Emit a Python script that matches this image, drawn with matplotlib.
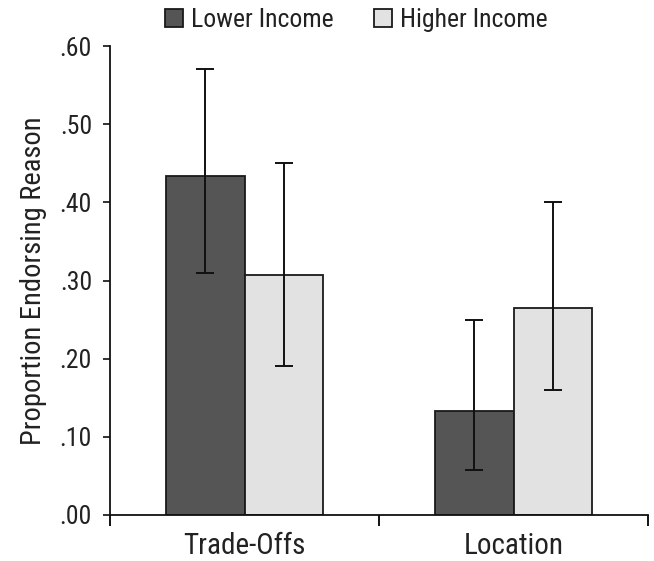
import matplotlib
matplotlib.use("Agg")
import matplotlib.pyplot as plt
import numpy as np

plt.rcParams['font.family'] = ['Roboto Condensed', 'Liberation Sans', 'DejaVu Sans']

categories = ["Trade-Offs", "Location"]
series = ["Lower Income", "Higher Income"]
lower_vals = [0.434, 0.133]
lower_lo = [0.310, 0.058]
lower_hi = [0.570, 0.250]
higher_vals = [0.307, 0.265]
higher_lo = [0.190, 0.160]
higher_hi = [0.450, 0.400]
yticks = [0.0, 0.1, 0.2, 0.3, 0.4, 0.5, 0.6]
ytick_labels = [".00", ".10", ".20", ".30", ".40", ".50", ".60"]

fig = plt.figure(figsize=(6.54, 5.61), dpi=100)
ax = fig.add_axes([110 / 654, 46 / 561, 538 / 654, 469 / 561])

x = np.arange(len(categories))
w = 0.29
colors = ["#555555", "#e2e2e2"]
edge = "#1a1a1a"
for i, (vals, lo, hi) in enumerate([(lower_vals, lower_lo, lower_hi),
                                    (higher_vals, higher_lo, higher_hi)]):
    pos = x + (i - 0.5) * w
    vals = np.array(vals)
    yerr = np.vstack([vals - np.array(lo), np.array(hi) - vals])
    ax.bar(pos, vals, width=w, color=colors[i], edgecolor=edge, linewidth=1.3,
           label=series[i], zorder=2)
    ax.errorbar(pos, vals, yerr=yerr, fmt='none', ecolor="#111111",
                elinewidth=1.4, capsize=6.5, capthick=1.4, zorder=3)

ax.set_xlim(-0.5, 1.5)
ax.set_ylim(0, 0.6)
ax.set_yticks(yticks)
ax.set_yticklabels(ytick_labels)
ax.set_xticks(x)
ax.set_xticklabels(categories)
ax.tick_params(axis='x', length=0, labelsize=21, pad=12, colors="#222222")
ax.set_xticks([-0.5, 0.5, 1.5], minor=True)
ax.tick_params(axis='x', which='minor', length=8, width=1.3, direction='out')
ax.tick_params(axis='y', length=5, width=1.3, labelsize=18.5, pad=8, colors="#222222")
for s in ["top", "right"]:
    ax.spines[s].set_visible(False)
for s in ["left", "bottom"]:
    ax.spines[s].set_linewidth(1.3)
    ax.spines[s].set_color("#111111")
ax.set_ylabel("Proportion Endorsing Reason", fontsize=20.5, labelpad=9, color="#222222")

leg = fig.legend(loc="center", bbox_to_anchor=(0.545, 0.965), ncol=2, frameon=False,
                 fontsize=18.5, handlelength=0.7, handleheight=0.7, handletextpad=0.3,
                 columnspacing=1.6)
for t in leg.get_texts():
    t.set_color("#222222")

fig.savefig("out.png", dpi=100)
